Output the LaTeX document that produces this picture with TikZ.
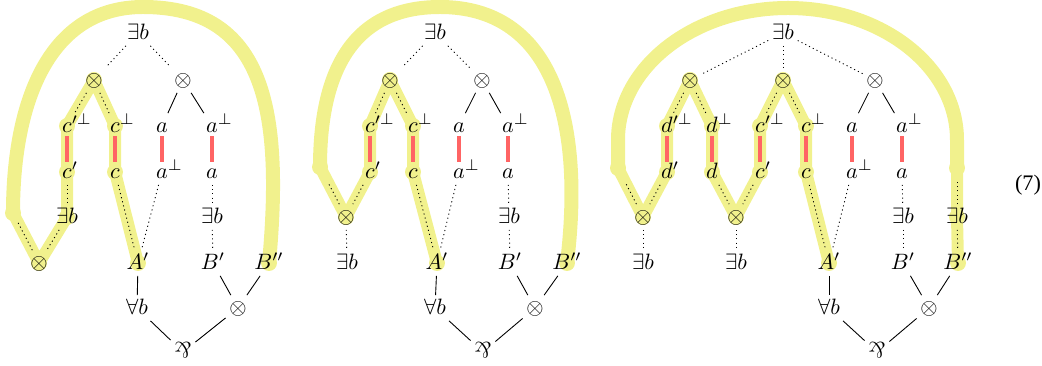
\documentclass[tikz,border=0pt]{standalone}
\usepackage{graphicx}
\usepackage{fontspec}
\newfontfamily\eqfont{Liberation Serif}
\usetikzlibrary{backgrounds}
\definecolor{yel}{RGB}{241,241,141}
\definecolor{redl}{RGB}{255,100,100}
\newcommand{\myparr}{\rotatebox[origin=c]{180}{$\&$}}
\newcommand{\pp}[1]{$#1\rlap{$^{\prime\perp}$}$}
\newcommand{\pr}[1]{$#1\rlap{$'$}$}
\newcommand{\pe}[1]{$#1\rlap{$^{\perp}$}$}
\tikzset{
  lb/.style={inner sep=1.5pt, text height=1.6ex, text depth=.3ex},
  dt/.style={dash pattern=on 0.5pt off 1.4pt},
  rd/.style={redl, line width=1.4pt, shorten <=-1.2pt, shorten >=-1.5pt},
  hl/.style={yel, line width=5.4pt, line cap=round, line join=round},
  arcst/.style={yel, line width=6.3pt, line cap=round},
}
\begin{document}
\begin{tikzpicture}[x=0.45pt,y=-0.45pt]
\useasboundingbox (0,0) rectangle (1042,366);
% ---------------- panel 1 ----------------
\node[lb] (E1) at (138,33) {$\exists b$};
\node[lb] (T1a) at (94,80) {$\otimes$};
\node[lb] (T1b) at (183,80) {$\otimes$};
\node[lb] (P1) at (67,126) {\pp{c}};
\node[lb] (Q1) at (115,126) {\pe{c}};
\node[lb] (R1) at (162,126) {$a$};
\node[lb] (S1) at (212,126) {\pe{a}};
\node[lb] (P1r) at (67,172) {\pr{c}};
\node[lb] (Q1r) at (115,172) {$c$};
\node[lb] (R1r) at (162,172) {\pe{a}};
\node[lb] (S1r) at (212,172) {$a$};
\node[lb] (X1) at (67,217) {$\exists b$};
\node[lb] (Y1) at (212,217) {$\exists b$};
\node[lb] (O1) at (39,263) {$\otimes$};
\node[lb] (A1) at (138,263) {$A'$};
\node[lb] (B1) at (213,263) {$B'$};
\node[lb] (C1) at (269,263) {$B''$};
\node[lb] (F1) at (137,308) {$\forall b$};
\node[lb] (G1) at (238,308) {$\otimes$};
\node[lb] (H1) at (183,352) {\myparr};
\coordinate (f1) at (13,213);
% ---------------- panel 2 ----------------
\node[lb] (E2) at (435,33) {$\exists b$};
\node[lb] (T2a) at (390,80) {$\otimes$};
\node[lb] (T2b) at (482,80) {$\otimes$};
\node[lb] (P2) at (370,126) {\pp{c}};
\node[lb] (Q2) at (413,126) {\pe{c}};
\node[lb] (R2) at (459,126) {$a$};
\node[lb] (S2) at (508,126) {\pe{a}};
\node[lb] (P2r) at (370,172) {\pr{c}};
\node[lb] (Q2r) at (413,172) {$c$};
\node[lb] (R2r) at (459,172) {\pe{a}};
\node[lb] (S2r) at (508,172) {$a$};
\node[lb] (O2) at (346,217) {$\otimes$};
\node[lb] (Y2) at (509,217) {$\exists b$};
\node[lb] (Z2) at (347,263) {$\exists b$};
\node[lb] (A2) at (437,263) {$A'$};
\node[lb] (B2) at (510,263) {$B'$};
\node[lb] (C2) at (567,263) {$B''$};
\node[lb] (F2) at (435,308) {$\forall b$};
\node[lb] (G2) at (535,308) {$\otimes$};
\node[lb] (H2) at (483,352) {\myparr};
\coordinate (f2) at (320,167);
% ---------------- panel 3 ----------------
\node[lb] (E3) at (783,33) {$\exists b$};
\node[lb] (T3a) at (690,80) {$\otimes$};
\node[lb] (T3b) at (783,80) {$\otimes$};
\node[lb] (T3c) at (875,80) {$\otimes$};
\node[lb] (D3) at (667,126) {\pp{d}};
\node[lb] (K3) at (712,126) {\pe{d}};
\node[lb] (P3) at (760,126) {\pp{c}};
\node[lb] (Q3) at (806,126) {\pe{c}};
\node[lb] (R3) at (852,126) {$a$};
\node[lb] (S3) at (902,126) {\pe{a}};
\node[lb] (D3r) at (667,172) {\pr{d}};
\node[lb] (K3r) at (712,172) {$d$};
\node[lb] (P3r) at (760,172) {\pr{c}};
\node[lb] (Q3r) at (806,172) {$c$};
\node[lb] (R3r) at (852,172) {\pe{a}};
\node[lb] (S3r) at (902,172) {$a$};
\node[lb] (O3a) at (643,217) {$\otimes$};
\node[lb] (O3b) at (736,217) {$\otimes$};
\node[lb] (Y3) at (903,217) {$\exists b$};
\node[lb] (W3) at (957,217) {$\exists b$};
\node[lb] (Z3a) at (643,263) {$\exists b$};
\node[lb] (Z3b) at (736,263) {$\exists b$};
\node[lb] (A3) at (829,263) {$A'$};
\node[lb] (B3) at (903,263) {$B'$};
\node[lb] (C3) at (958,263) {$B''$};
\node[lb] (F3) at (829,308) {$\forall b$};
\node[lb] (G3) at (929,308) {$\otimes$};
\node[lb] (H3) at (877,352) {\myparr};
\coordinate (f3) at (618,168);
\coordinate (f3b) at (957,168);
\node[font=\eqfont] (eq) at (1028,185) {(7)};
% ---------------- highlights ----------------
\begin{pgfonlayer}{background}
\draw[arcst] (f1) .. controls (13,100) and (50,7) .. (143,7) .. controls (265,7) and (283,110) .. (C1.center);
\draw[arcst] (f2) .. controls (320,75) and (350,7) .. (440,7) .. controls (550,7) and (585,115) .. (C2.center);
\draw[arcst] (f3) -- (618,140) .. controls (618,67) and (694,8) .. (788,8) .. controls (882,8) and (957,67) .. (957,140) -- (f3b);
\draw[hl] (f1) -- (O1.center) -- (X1.center) -- (P1r.center) -- (P1.center) -- (T1a.center) -- (Q1.center) -- (Q1r.center) -- (A1.center);
\draw[hl] (f2) -- (O2.center) -- (P2r.center) -- (P2.center) -- (T2a.center) -- (Q2.center) -- (Q2r.center) -- (A2.center);
\draw[hl] (f3) -- (O3a.center) -- (D3r.center) -- (D3.center) -- (T3a.center) -- (K3.center) -- (K3r.center) -- (O3b.center) -- (P3r.center) -- (P3.center) -- (T3b.center) -- (Q3.center) -- (Q3r.center) -- (A3.center);
\draw[hl] (f3b) -- (W3.center) -- (C3.center);
\foreach \n in {f1,O1,X1,P1r,P1,T1a,Q1,Q1r,A1,C1,
                f2,O2,P2r,P2,T2a,Q2,Q2r,A2,C2,
                f3,O3a,D3r,D3,T3a,K3,K3r,O3b,P3r,P3,T3b,Q3,Q3r,A3,f3b,W3,C3}
  \fill[yel] (\n) circle (3.6pt);
\end{pgfonlayer}
% ---------------- red links ----------------
\foreach \a/\b in {P1/P1r,Q1/Q1r,R1/R1r,S1/S1r,P2/P2r,Q2/Q2r,R2/R2r,S2/S2r,
                   D3/D3r,K3/K3r,P3/P3r,Q3/Q3r,R3/R3r,S3/S3r}
  \draw[rd] (\a) -- (\b);
% ---------------- dotted edges ----------------
\foreach \a/\b in {E1/T1a,E1/T1b,T1a/P1,T1a/Q1,P1r/X1,X1/O1,Q1r/A1,R1r/A1,S1r/Y1,Y1/B1,
                   E2/T2a,E2/T2b,T2a/P2,T2a/Q2,P2r/O2,O2/Z2,Q2r/A2,R2r/A2,S2r/Y2,Y2/B2,
                   E3/T3a,E3/T3b,E3/T3c,T3a/D3,T3a/K3,T3b/P3,T3b/Q3,D3r/O3a,K3r/O3b,P3r/O3b,
                   O3a/Z3a,O3b/Z3b,Q3r/A3,R3r/A3,S3r/Y3,Y3/B3,W3/C3}
  \draw[dt] (\a) -- (\b);
\draw[dt, shorten >=5pt] (O1) -- (f1);
\draw[dt, shorten >=8pt] (O2) -- (f2);
\draw[dt, shorten >=8pt] (O3a) -- (f3);
\draw[dt, shorten >=5pt] (W3) -- (f3b);
% ---------------- solid edges ----------------
\foreach \a/\b in {T1b/R1,T1b/S1,A1/F1,B1/G1,C1/G1,F1/H1,G1/H1,
                   T2b/R2,T2b/S2,A2/F2,B2/G2,C2/G2,F2/H2,G2/H2,
                   T3c/R3,T3c/S3,A3/F3,B3/G3,C3/G3,F3/H3,G3/H3}
  \draw (\a) -- (\b);
\end{tikzpicture}
\end{document}
